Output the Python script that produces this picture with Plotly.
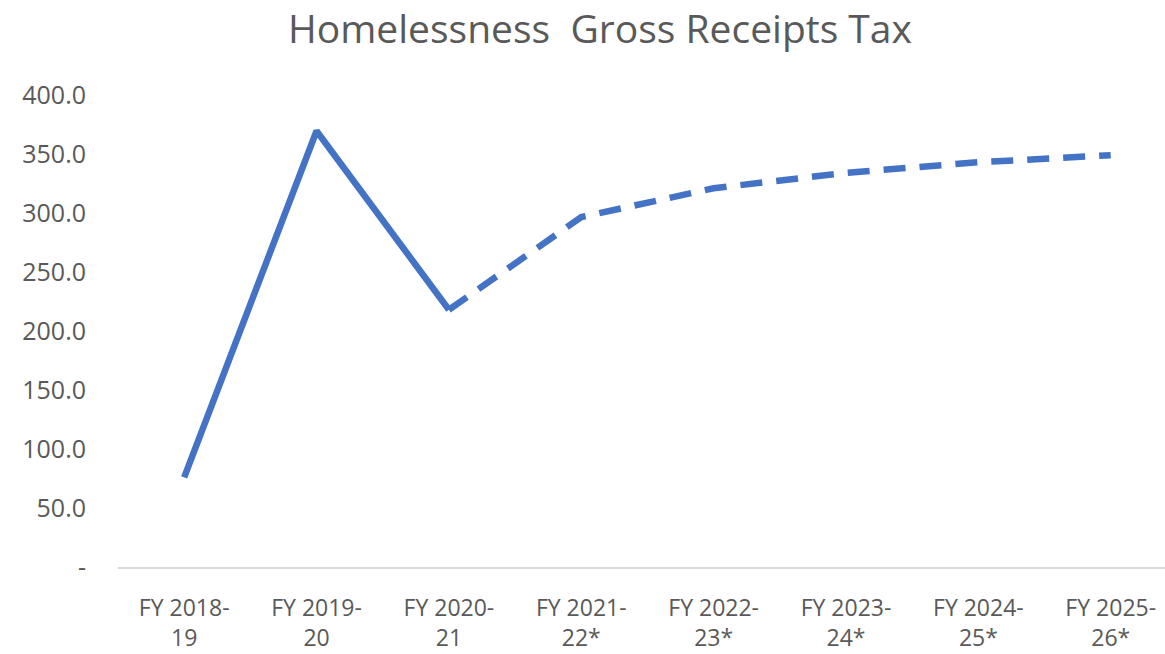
import plotly.graph_objects as go

categories = ["FY 2018-<br>19", "FY 2019-<br>20", "FY 2020-<br>21", "FY 2021-<br>22*",
              "FY 2022-<br>23*", "FY 2023-<br>24*", "FY 2024-<br>25*", "FY 2025-<br>26*"]
actual_values = [76.0, 369.5, 218.0]
forecast_values = [218.0, 296.5, 321.0, 334.0, 343.0, 349.0]
y_tick_vals = [0, 50, 100, 150, 200, 250, 300, 350, 400]
y_tick_text = ["-", "50.0", "100.0", "150.0", "200.0", "250.0", "300.0", "350.0", "400.0"]

x_actual = list(range(len(actual_values)))
x_forecast = list(range(len(actual_values) - 1, len(categories)))

blue = "#4472C4"
grey = "#595959"
font_family = "Open Sans"

W, H = 1165, 654

fig = go.Figure()
fig.add_trace(go.Scatter(x=x_actual, y=actual_values, mode="lines",
                         line=dict(color=blue, width=6.5), showlegend=False,
                         hoverinfo="skip"))
fig.add_trace(go.Scatter(x=x_forecast, y=forecast_values, mode="lines",
                         line=dict(color=blue, width=6.5, dash="22px,14px"), showlegend=False,
                         hoverinfo="skip"))

fig.update_layout(
    width=W, height=H,
    paper_bgcolor="white", plot_bgcolor="white",
    margin=dict(l=118, r=0, t=95, b=87, autoexpand=False),
    title=dict(text="Homelessness  Gross Receipts Tax", x=600 / W, xanchor="center",
               xref="container", yref="container",
               y=1 - 29 / H, yanchor="middle",
               font=dict(family=font_family, size=39, color=grey)),
    font=dict(family=font_family, color=grey),
)
fig.update_xaxes(
    tickmode="array", tickvals=list(range(len(categories))), ticktext=categories,
    range=[-0.5, 7.41], showgrid=False, zeroline=False, automargin=False,
    showline=True, linecolor="#D9D9D9", linewidth=1.5, ticks="",
    tickfont=dict(family=font_family, size=23, color=grey),
    ticklabelstandoff=20,
)
fig.update_yaxes(
    tickmode="array", tickvals=y_tick_vals, ticktext=y_tick_text,
    range=[0, 400], showgrid=False, zeroline=False, showline=False, ticks="",
    automargin=False,
    tickfont=dict(family=font_family, size=25, color=grey),
    ticklabelstandoff=31,
)

fig.write_html("out.html", config={"displayModeBar": False},
               post_script="document.body.style.margin='0px';")
